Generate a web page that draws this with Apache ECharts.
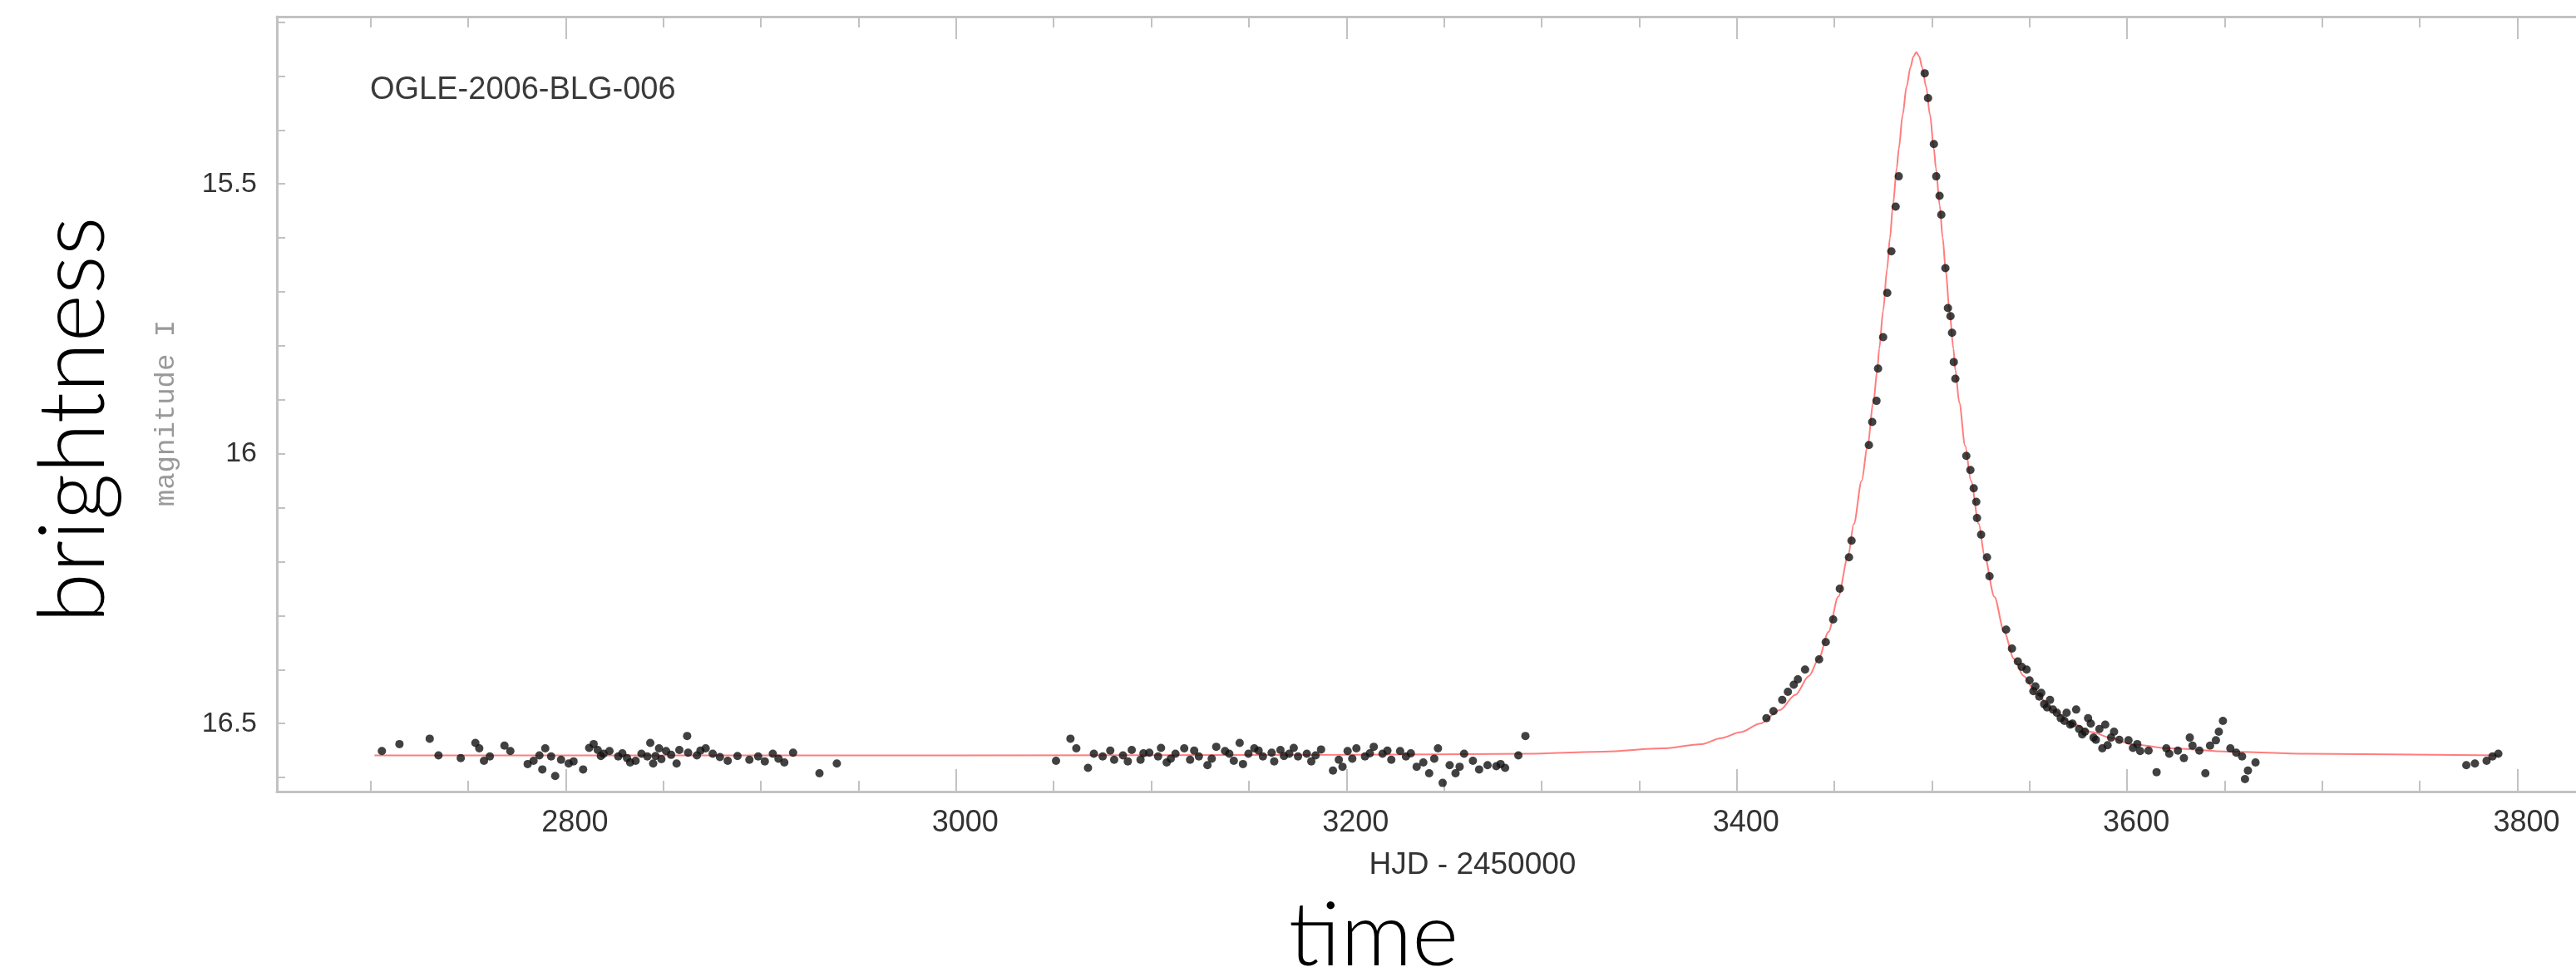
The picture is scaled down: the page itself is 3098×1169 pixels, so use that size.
<!DOCTYPE html>
<html>
<head>
<meta charset="utf-8">
<script src="https://cdn.jsdelivr.net/npm/echarts@6/dist/echarts.min.js"></script>
<style>
  html, body { margin: 0; padding: 0; background: #fff; }
  #chart { width: 3098px; height: 1169px; }
</style>
</head>
<body>
<div id="chart"></div>
<script>
// axis ticks / labels
const xMajorTicks = [2800, 3000, 3200, 3400, 3600, 3800]
const xMinorTicks = [2700, 2750, 2850, 2900, 2950, 3050, 3100, 3150, 3250, 3300, 3350,
  3450, 3500, 3550, 3650, 3700, 3750]
const yTicks = [15.2, 15.3, 15.4, 15.5, 15.6, 15.7, 15.8, 15.9, 16, 16.1, 16.2, 16.3, 16.4, 16.5, 16.6]
const yLabels = [15.5, 16, 16.5]

// model light curve [HJD - 2450000, I mag]
const model = [
  [2702, 16.559], [3000, 16.559], [3200, 16.558], [3292, 16.556], [3332, 16.552], [3362, 16.546],
  [3382, 16.538], [3392, 16.527], [3402, 16.516], [3412, 16.500], [3422, 16.475], [3430, 16.447],
  [3437, 16.412], [3442, 16.380], [3447, 16.330], [3452, 16.265], [3457, 16.190], [3460, 16.130],
  [3464, 16.050], [3467, 15.985], [3470, 15.905], [3472, 15.845], [3473, 15.805], [3475, 15.735],
  [3477, 15.658], [3478.5, 15.600], [3480, 15.540], [3482, 15.470], [3483, 15.435], [3485, 15.372],
  [3487, 15.320], [3489, 15.284], [3490.5, 15.264], [3492, 15.256], [3493.5, 15.264], [3495, 15.284],
  [3497, 15.320], [3499, 15.372], [3501, 15.435], [3502, 15.470], [3504, 15.540], [3505.5, 15.600],
  [3507, 15.658], [3509, 15.735], [3511, 15.805], [3512, 15.845], [3514, 15.905], [3517, 15.985],
  [3520, 16.050], [3524, 16.130], [3527, 16.190], [3532, 16.265], [3537, 16.330], [3542, 16.380],
  [3547, 16.412], [3554, 16.447], [3562, 16.475], [3572, 16.500], [3582, 16.516], [3592, 16.527],
  [3602, 16.538], [3622, 16.546], [3652, 16.552], [3692, 16.556], [3791, 16.559]
]

// OGLE photometry, first baseline season
const season2005 = [
  [2705.8, 16.551], [2714.8, 16.538], [2730.3, 16.528], [2734.8, 16.559], [2746.2, 16.564],
  [2753.7, 16.536], [2755.7, 16.546], [2758.1, 16.569], [2761.1, 16.561], [2768.6, 16.541],
  [2771.6, 16.551], [2780.5, 16.575], [2783.5, 16.569], [2786.5, 16.559], [2788.0, 16.585],
  [2789.5, 16.546], [2792.5, 16.561], [2794.6, 16.597], [2797.6, 16.567], [2801.5, 16.574],
  [2804.0, 16.570], [2808.9, 16.585], [2812.0, 16.545], [2814.3, 16.538], [2816.4, 16.549],
  [2818.0, 16.560], [2819.4, 16.556], [2822.4, 16.551], [2826.9, 16.561], [2829.0, 16.555],
  [2831.4, 16.564], [2833.0, 16.572], [2835.8, 16.569], [2838.8, 16.556], [2841.8, 16.561],
  [2843.3, 16.536], [2844.8, 16.574], [2846.0, 16.560], [2847.8, 16.546], [2849.0, 16.566],
  [2851.4, 16.551], [2854.0, 16.558], [2856.8, 16.574], [2858.2, 16.549], [2862.2, 16.523],
  [2862.7, 16.554], [2867.2, 16.559], [2869.0, 16.550], [2871.7, 16.546], [2875.3, 16.556],
  [2879.0, 16.562], [2883.0, 16.569], [2888.0, 16.560], [2894.1, 16.567], [2898.6, 16.561],
  [2902.0, 16.570], [2906.1, 16.556], [2909.0, 16.565], [2912.0, 16.572], [2916.5, 16.554],
  [2930.0, 16.592], [2938.9, 16.574]
]

// second baseline season
const season2006 = [
  [3051.2, 16.569], [3058.6, 16.528], [3061.6, 16.546], [3067.6, 16.582], [3070.6, 16.556],
  [3075.1, 16.561], [3079.0, 16.550], [3081.0, 16.567], [3085.5, 16.559], [3088.0, 16.570],
  [3090.0, 16.549], [3094.5, 16.567], [3096.0, 16.555], [3099.0, 16.554], [3103.5, 16.561],
  [3105.0, 16.545], [3107.9, 16.572], [3110.0, 16.565], [3112.4, 16.556], [3116.9, 16.546],
  [3119.9, 16.567], [3122.0, 16.550], [3124.4, 16.561], [3128.8, 16.577], [3131.0, 16.565],
  [3133.3, 16.543], [3137.8, 16.551], [3140.0, 16.556], [3142.3, 16.569], [3145.3, 16.536],
  [3147.0, 16.575], [3149.8, 16.556], [3152.8, 16.546], [3155.0, 16.550], [3157.2, 16.561],
  [3161.7, 16.554], [3163.0, 16.570], [3166.2, 16.549], [3168.0, 16.560], [3170.7, 16.556],
  [3173.0, 16.545], [3175.2, 16.561], [3179.7, 16.556], [3182.0, 16.570], [3184.2, 16.559],
  [3187.0, 16.548], [3193.1, 16.587], [3196.1, 16.567], [3198.0, 16.580], [3200.6, 16.551],
  [3203.0, 16.565], [3205.1, 16.546], [3209.5, 16.561], [3212.0, 16.555], [3214.0, 16.543],
  [3218.5, 16.556], [3221.0, 16.550], [3223.0, 16.567], [3227.5, 16.551], [3230.5, 16.561],
  [3233.0, 16.555], [3236.0, 16.580], [3239.4, 16.572], [3242.4, 16.592], [3245.0, 16.565],
  [3246.9, 16.546], [3249.3, 16.610], [3252.9, 16.577], [3255.9, 16.592], [3258.0, 16.580],
  [3260.3, 16.556], [3264.8, 16.569], [3268.0, 16.585], [3272.3, 16.577], [3276.8, 16.579],
  [3279.0, 16.575], [3281.3, 16.582], [3288.1, 16.559], [3291.7, 16.523]
]

// event season
const season2007 = [
  [3415.2, 16.490], [3418.8, 16.477], [3423.3, 16.456], [3426.2, 16.441], [3429.2, 16.428],
  [3431.3, 16.418], [3435.0, 16.400], [3442.2, 16.381], [3445.6, 16.349], [3449.4, 16.307],
  [3452.8, 16.250], [3457.5, 16.192], [3458.8, 16.161], [3467.7, 15.984], [3469.4, 15.941],
  [3471.6, 15.902], [3472.4, 15.842], [3475.0, 15.784], [3477.1, 15.702], [3479.2, 15.625],
  [3481.4, 15.542], [3483.0, 15.486],
  [3496.3, 15.295], [3498.0, 15.341], [3501.0, 15.426], [3502.2, 15.486], [3503.9, 15.522],
  [3504.8, 15.557], [3506.9, 15.656], [3508.2, 15.730], [3509.5, 15.745], [3510.3, 15.776],
  [3511.2, 15.830], [3512.0, 15.861], [3517.6, 16.004], [3519.7, 16.030], [3521.4, 16.064],
  [3522.7, 16.089], [3523.1, 16.119], [3525.2, 16.150], [3528.2, 16.192], [3529.5, 16.227],
  [3538.0, 16.326], [3541.0, 16.361], [3544.0, 16.385], [3546.0, 16.395], [3548.5, 16.400],
  [3550.0, 16.420], [3552.0, 16.440], [3553.0, 16.431], [3555.0, 16.450], [3556.0, 16.443],
  [3557.5, 16.464], [3559.0, 16.470], [3560.5, 16.456], [3562.0, 16.474], [3564.0, 16.480],
  [3566.0, 16.490], [3567.9, 16.495], [3569.0, 16.480], [3570.9, 16.502], [3572.0, 16.500],
  [3573.9, 16.474], [3575.4, 16.510], [3577.0, 16.520], [3578.4, 16.515], [3580.0, 16.490],
  [3581.4, 16.500], [3582.8, 16.526], [3584.0, 16.530], [3585.8, 16.510], [3587.3, 16.546],
  [3588.8, 16.502], [3590.0, 16.540], [3591.8, 16.526], [3593.3, 16.515], [3596.0, 16.530],
  [3600.7, 16.531], [3603.0, 16.545], [3605.2, 16.538], [3606.7, 16.551], [3611.0, 16.550],
  [3615.1, 16.590], [3620.1, 16.546], [3621.6, 16.556], [3626.0, 16.550], [3629.1, 16.564],
  [3632.1, 16.526], [3633.5, 16.541], [3637.0, 16.550], [3640.1, 16.592], [3642.5, 16.541],
  [3645.5, 16.531], [3647.0, 16.515], [3649.1, 16.495], [3652.9, 16.546], [3655.9, 16.554],
  [3658.9, 16.561], [3660.4, 16.603], [3661.9, 16.587], [3665.8, 16.572],
  [3773.8, 16.577], [3778.2, 16.574], [3784.2, 16.569], [3787.2, 16.561], [3790.2, 16.556]
]

const frameGrey = '#c2c2c2'
const tickFont = 'Liberation Sans, Arial, sans-serif'
const xMin = 2652
const xMax = 3830

const xAxisBase = (position, ticks, len, withLine, withLabel) => ({
  type: 'value',
  position,
  min: xMin,
  max: xMax,
  axisLine: { show: withLine, onZero: false, lineStyle: { color: frameGrey, width: 3 } },
  axisTick: { show: true, inside: true, length: len, customValues: ticks, lineStyle: { color: frameGrey, width: 2 } },
  axisLabel: withLabel ? {
    show: true,
    customValues: xMajorTicks,
    formatter: v => String(v),
    fontSize: 36,
    fontFamily: tickFont,
    color: '#333',
    margin: 20,
    padding: [0, 0, 0, 22]
  } : { show: false },
  splitLine: { show: false }
})

const chart = echarts.init(document.getElementById('chart'))

chart.setOption({
  animation: false,
  backgroundColor: '#fff',
  grid: { left: 333, right: 0, top: 20, bottom: 217 },
  xAxis: [
    xAxisBase('bottom', xMajorTicks, 27, true, true),
    xAxisBase('bottom', xMinorTicks, 13, false, false),
    xAxisBase('top', xMajorTicks, 27, true, false),
    xAxisBase('top', xMinorTicks, 13, false, false)
  ],
  yAxis: {
    type: 'value',
    inverse: true,
    min: 15.19,
    max: 16.626,
    axisLine: { show: true, onZero: false, lineStyle: { color: frameGrey, width: 3 } },
    axisTick: { show: true, inside: true, length: 10, customValues: yTicks, lineStyle: { color: frameGrey, width: 2 } },
    axisLabel: {
      customValues: yLabels,
      formatter: v => String(v),
      fontSize: 34,
      fontFamily: tickFont,
      color: '#333',
      margin: 24,
      padding: [14, 0, 0, 0]
    },
    splitLine: { show: false }
  },
  graphic: [
    {
      type: 'text', left: 445, top: 90,
      style: { text: 'OGLE-2006-BLG-006', fontSize: 38, fontFamily: tickFont, fill: '#3a3a3a' }
    },
    {
      type: 'text', x: 1771, y: 1041,
      style: { text: 'HJD - 2450000', fontSize: 37, fontFamily: tickFont, fill: '#333', align: 'center', verticalAlign: 'middle' }
    },
    {
      type: 'text', x: 200, y: 497, rotation: Math.PI / 2,
      style: { text: 'magnitude I', fontSize: 34, fontFamily: 'Liberation Mono, monospace', fill: '#999', align: 'center', verticalAlign: 'middle' }
    },
    {
      type: 'text', x: 90, y: 505, rotation: Math.PI / 2,
      style: { text: 'brightness', fontSize: 110, fontFamily: 'Lato, sans-serif', fontWeight: 300, fill: '#000', align: 'center', verticalAlign: 'middle' }
    },
    {
      type: 'text', x: 1652, y: 1126,
      style: { text: 'time', fontSize: 107, fontFamily: 'Lato, sans-serif', fontWeight: 300, fill: '#000', align: 'center', verticalAlign: 'middle' }
    }
  ],
  series: [
    {
      name: 'model',
      type: 'line',
      data: model,
      symbol: 'none',
      smooth: 0.3,
      smoothMonotone: 'x',
      lineStyle: { color: '#ff7d7d', width: 2 },
      z: 1
    },
    {
      name: 'OGLE I',
      type: 'scatter',
      data: [...season2005, ...season2006, ...season2007],
      symbol: 'circle',
      symbolSize: 10,
      itemStyle: { color: '#111' },
      z: 2
    }
  ]
})
</script>
</body>
</html>
